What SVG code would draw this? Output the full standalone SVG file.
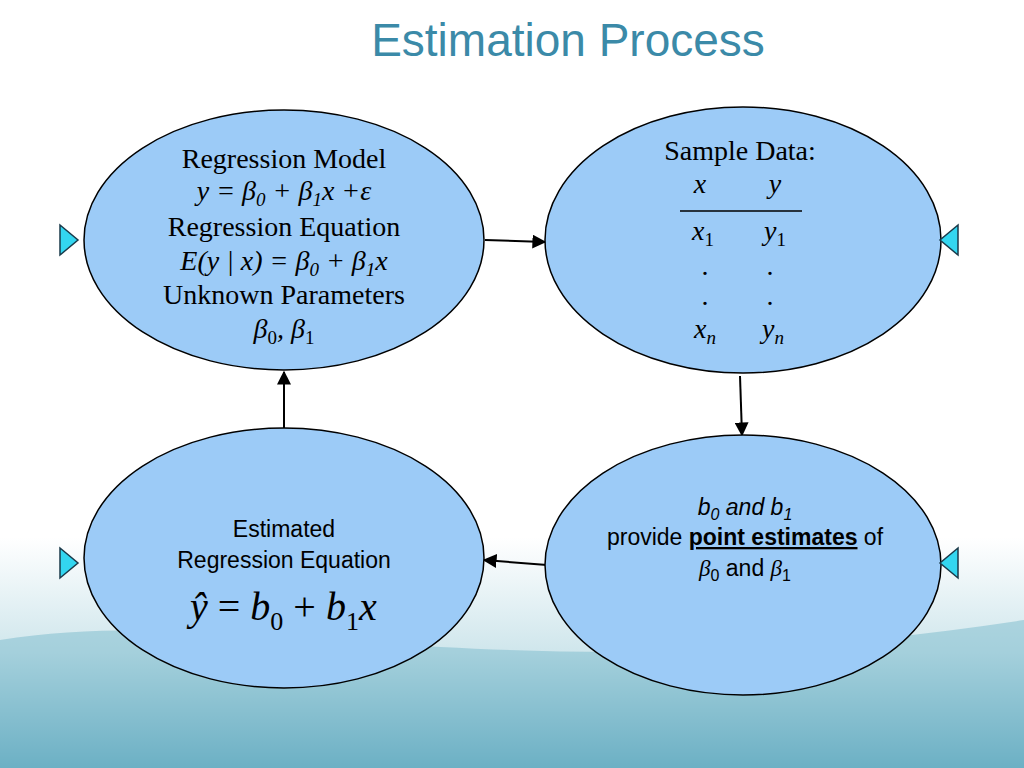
<svg xmlns="http://www.w3.org/2000/svg" width="1024" height="768" viewBox="0 0 1024 768">
<defs>
<linearGradient id="bg" x1="0" y1="0" x2="0" y2="1">
<stop offset="0" stop-color="#ffffff"/><stop offset="0.7" stop-color="#ffffff"/><stop offset="0.85" stop-color="#cfe6ec"/><stop offset="1" stop-color="#5fa7bd"/>
</linearGradient>
<marker id="ah" viewBox="0 0 10 10" refX="9" refY="5" markerWidth="7" markerHeight="7" orient="auto"><path d="M0,0 L10,5 L0,10 z" fill="#000"/></marker>
<style>
.e{fill:#9ccbf7;stroke:#000;stroke-width:1.5}
.s{font-family:"Liberation Serif",serif;font-size:28px;fill:#000;text-anchor:middle}
.i{font-style:italic}
.a{font-family:"Liberation Sans",sans-serif;font-size:23px;fill:#000;text-anchor:middle}
.c{stroke:#000;stroke-width:2;fill:none;marker-end:url(#ah)}
.t{fill:#33d6f0;stroke:#1a3a4a;stroke-width:1.5}
</style>
</defs>
<rect width="1024" height="768" fill="url(#bg)"/>
<path d="M0,640 C250,600 500,700 1024,620 L1024,768 L0,768 z" fill="#7ab9cb" opacity="0.5"/>
<text x="568" y="56" font-family="Liberation Sans,sans-serif" font-size="46" fill="#3b8aa8" text-anchor="middle">Estimation Process</text>
<g id="connectors">
<line class="c" x1="485" y1="240" x2="545" y2="242"/>
<line class="c" x1="740" y1="376" x2="742" y2="435"/>
<line class="c" x1="547" y1="565" x2="484" y2="560"/>
<line class="c" x1="284" y1="428" x2="284" y2="372"/>
</g>
<g id="model">
<ellipse class="e" cx="284" cy="240" rx="200" ry="130"/>
<text class="s" x="284" y="168">Regression Model</text>
<text class="s i" x="284" y="200">y = β<tspan font-size="19" dy="6">0</tspan><tspan dy="-6"> + β</tspan><tspan font-size="19" dy="6">1</tspan><tspan dy="-6">x +ε</tspan></text>
<text class="s" x="284" y="236">Regression Equation</text>
<text class="s i" x="284" y="270">E(y | x) = β<tspan font-size="19" dy="6">0</tspan><tspan dy="-6"> + β</tspan><tspan font-size="19" dy="6">1</tspan><tspan dy="-6">x</tspan></text>
<text class="s" x="284" y="304">Unknown Parameters</text>
<text class="s i" x="284" y="338">β<tspan font-size="19" dy="6" font-style="normal">0</tspan><tspan dy="-6">, β</tspan><tspan font-size="19" dy="6" font-style="normal">1</tspan></text>
</g>
<g id="sample">
<ellipse class="e" cx="743" cy="240" rx="198" ry="133"/>
<text class="s" x="740" y="160">Sample Data:</text>
<text class="s i" x="700" y="193">x</text><text class="s i" x="775" y="193">y</text>
<line x1="680" y1="211" x2="802" y2="211" stroke="#000" stroke-width="1.5"/>
<text class="s i" x="703" y="240">x<tspan font-size="19" dy="6" font-style="normal">1</tspan></text>
<text class="s i" x="775" y="240">y<tspan font-size="19" dy="6" font-style="normal">1</tspan></text>
<text class="s" x="705" y="275">.</text><text class="s" x="770" y="275">.</text>
<text class="s" x="705" y="305">.</text><text class="s" x="770" y="305">.</text>
<text class="s i" x="705" y="338">x<tspan font-size="19" dy="6">n</tspan></text>
<text class="s i" x="773" y="338">y<tspan font-size="19" dy="6">n</tspan></text>
</g>
<g id="estimates">
<ellipse class="e" cx="743" cy="565" rx="198" ry="130"/>
<text class="a" x="745" y="515"><tspan font-style="italic">b<tspan font-size="16" dy="5">0</tspan><tspan dy="-5"> and b</tspan><tspan font-size="16" dy="5">1</tspan></tspan></text>
<text class="a" x="745" y="545">provide <tspan font-weight="bold" text-decoration="underline">point estimates</tspan> of</text>
<text class="a" x="745" y="576"><tspan font-style="italic" font-family="Liberation Serif,serif">β</tspan><tspan font-size="16" dy="5">0</tspan><tspan dy="-5"> and </tspan><tspan font-style="italic" font-family="Liberation Serif,serif">β</tspan><tspan font-size="16" dy="5">1</tspan></text>
</g>
<g id="estimated">
<ellipse class="e" cx="284" cy="558" rx="200" ry="130"/>
<text class="a" x="284" y="537">Estimated</text>
<text class="a" x="284" y="568">Regression Equation</text>
<text font-family="Liberation Serif,serif" font-size="40" x="190" y="620"><tspan font-style="italic">ŷ</tspan> = <tspan font-style="italic">b</tspan><tspan font-size="26" dy="10">0</tspan><tspan dy="-10"> + </tspan><tspan font-style="italic">b</tspan><tspan font-size="26" dy="10">1</tspan><tspan dy="-10" font-style="italic">x</tspan></text>
</g>
<g id="nav">
<path class="t" d="M60,225 L78,240 L60,255 z"/>
<path class="t" d="M60,548 L78,563 L60,578 z"/>
<path class="t" d="M958,225 L940,240 L958,255 z"/>
<path class="t" d="M958,548 L940,563 L958,578 z"/>
</g>
</svg>
